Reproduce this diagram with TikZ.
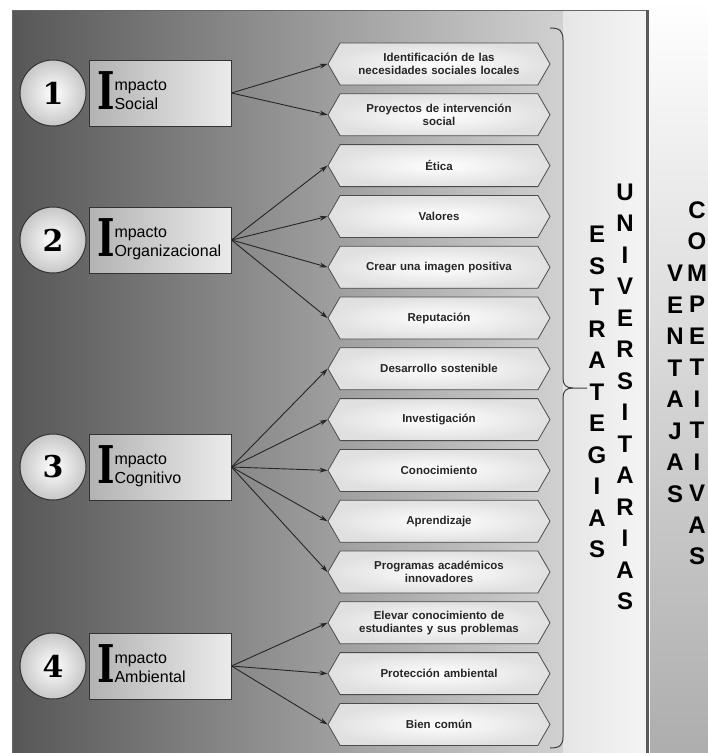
\documentclass[tikz,border=0pt]{standalone}
\usepackage{fontspec}
\setsansfont{Liberation Sans}
\newfontfamily\numfont{DejaVu Serif}
\usetikzlibrary{shapes, shapes.symbols, arrows.meta, positioning}

\newcommand{\bigI}{{\numfont\bfseries\fontsize{52}{52}\selectfont\scalebox{0.72}[1]{I}}}
\newcommand{\impacto}[1]{\bigI\begin{tabular}[b]{@{}l@{}}mpacto\\#1\end{tabular}}

\begin{document}
\begin{tikzpicture}[x=1pt, y=-1pt, font=\sffamily]
% Define styles
\tikzstyle{impbox} = [rectangle, draw=black!80, line width=1pt, left color=black!30, middle color=white, right color=black!8, minimum width=142pt, minimum height=66pt, text width=126pt, align=left, inner xsep=8pt, font=\sffamily\fontsize{16}{19}\selectfont]
\tikzstyle{numcircle} = [circle, draw=black!80, line width=1pt, inner color=white, outer color=black!22, minimum size=66pt, inner sep=0pt, font=\numfont\bfseries\fontsize{30}{30}\selectfont]
\tikzstyle{hexa} = [signal, signal to=west and east, signal pointer angle=120, draw=black!70, line width=0.8pt, inner color=white, outer color=black!12, minimum width=222pt, minimum height=42pt, text width=180pt, align=center, inner sep=1pt, text=black!85, font=\sffamily\bfseries\fontsize{11.5}{13.5}\selectfont]
\tikzstyle{vword} = [align=center, inner sep=0pt, font=\sffamily\bfseries\fontsize{24}{31.5}\selectfont]
\tikzstyle{arrow} = [line width=0.9pt, black!85, -{Stealth[length=8pt, width=5pt]}]

\useasboundingbox (0,0) rectangle (708,753);
\clip (0,0) rectangle (708,753);

% Background
\fill[white] (0,0) rectangle (708,753);
\shade[left color=black!66, right color=black!18] (12,10) rectangle (563,753);
\shade[left color=black!10, right color=black!4] (563,10) rectangle (647,753);
\draw[black!60, line width=0.6pt] (12,753) -- (12,10) -- (647,10);
\shade[top color=white, middle color=black!16, bottom color=black!32] (650,0) rectangle (708,753);
\fill[black!65] (646,10) rectangle (649,753);

% Impacto social
\node (social) [impbox] at (160,93) {\impacto{Social}};
\node (num1) [numcircle, left=2pt of social] {1};
\node (identificacion) [hexa] at (439,64) {Identificación de las\\necesidades sociales locales};
\node (proyectos) [hexa, below=8pt of identificacion] {Proyectos de intervención\\social};
\draw [arrow] (social.east) -- (identificacion.west);
\draw [arrow] (social.east) -- (proyectos.west);

% Impacto organizacional
\node (organizacional) [impbox] at (160,240) {\impacto{Organizacional}};
\node (num2) [numcircle, left=2pt of organizacional] {2};
\node (etica) [hexa, below=8pt of proyectos] {Ética};
\node (valores) [hexa, below=8pt of etica] {Valores};
\node (imagen) [hexa, below=8pt of valores] {Crear una imagen positiva};
\node (reputacion) [hexa, below=8pt of imagen] {Reputación};
\draw [arrow] (organizacional.east) -- (etica.west);
\draw [arrow] (organizacional.east) -- (valores.west);
\draw [arrow] (organizacional.east) -- (imagen.west);
\draw [arrow] (organizacional.east) -- (reputacion.west);

% Impacto cognitivo
\node (cognitivo) [impbox] at (160,467) {\impacto{Cognitivo}};
\node (num3) [numcircle, left=2pt of cognitivo] {3};
\node (desarrollo) [hexa, below=8pt of reputacion] {Desarrollo sostenible};
\node (investigacion) [hexa, below=8pt of desarrollo] {Investigación};
\node (conocimiento) [hexa, below=8pt of investigacion] {Conocimiento};
\node (aprendizaje) [hexa, below=8pt of conocimiento] {Aprendizaje};
\node (programas) [hexa, below=8pt of aprendizaje] {Programas académicos\\innovadores};
\draw [arrow] (cognitivo.east) -- (desarrollo.west);
\draw [arrow] (cognitivo.east) -- (investigacion.west);
\draw [arrow] (cognitivo.east) -- (conocimiento.west);
\draw [arrow] (cognitivo.east) -- (aprendizaje.west);
\draw [arrow] (cognitivo.east) -- (programas.west);

% Impacto ambiental
\node (ambiental) [impbox] at (160,666) {\impacto{Ambiental}};
\node (num4) [numcircle, left=2pt of ambiental] {4};
\node (elevar) [hexa, below=8pt of programas] {Elevar conocimiento de\\estudiantes y sus problemas};
\node (proteccion) [hexa, below=8pt of elevar] {Protección ambiental};
\node (biencomun) [hexa, below=8pt of proteccion] {Bien común};
\draw [arrow] (ambiental.east) -- (elevar.west);
\draw [arrow] (ambiental.east) -- (proteccion.west);
\draw [arrow] (ambiental.east) -- (biencomun.west);

% Llave
\draw[black!75, line width=1pt] (550,28) .. controls (560,28) and (563,31) .. (563,40) -- (563,378) .. controls (563,385) and (566,388) .. (573,388) -- (587,388);
\draw[black!75, line width=1pt] (573,388) .. controls (566,388) and (563,391) .. (563,398) -- (563,737) .. controls (563,745) and (560,748) .. (550,748);

% Palabras verticales
\node (estrategias) [vword] at (597,392) {E\\S\\T\\R\\A\\T\\E\\G\\I\\A\\S};
\node (universitarias) [vword] at (625,397) {U\\N\\I\\V\\E\\R\\S\\I\\T\\A\\R\\I\\A\\S};
\node (ventajas) [vword] at (675,384) {V\\E\\N\\T\\A\\J\\A\\S};
\node (competitivas) [vword] at (697,383) {C\\O\\M\\P\\E\\T\\I\\T\\I\\V\\A\\S};
\end{tikzpicture}
\end{document}
